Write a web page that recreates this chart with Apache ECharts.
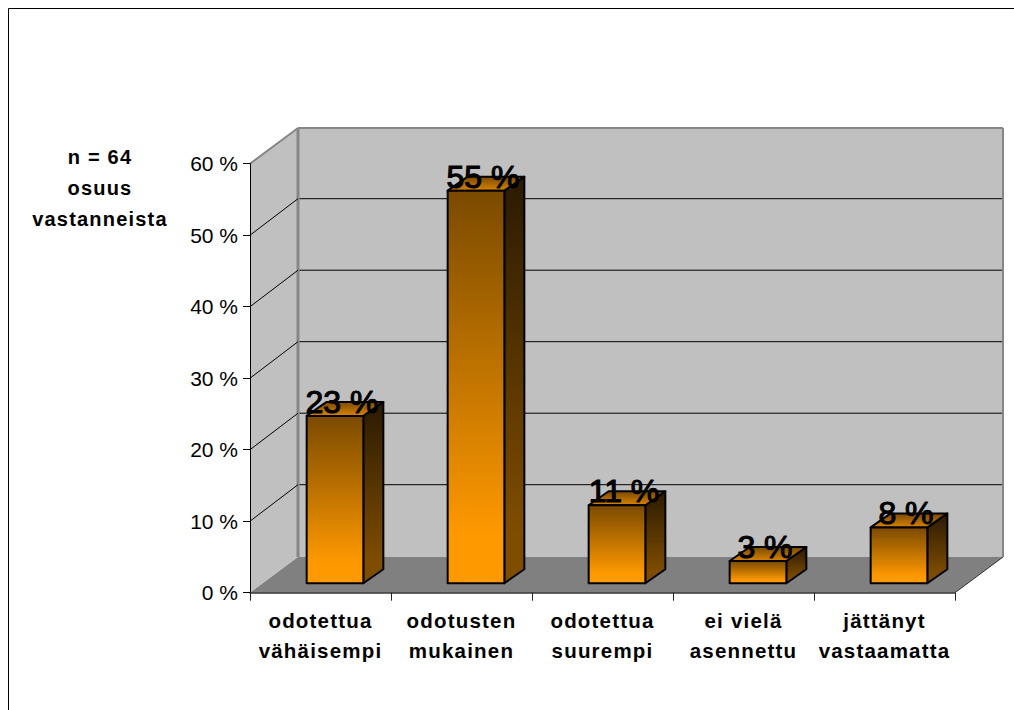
<!DOCTYPE html>
<html>
<head>
<meta charset="utf-8">
<style>
html,body{margin:0;padding:0;background:#fff}
#c{width:1014px;height:710px}
#c text[style*="bold"]{letter-spacing:1.2px}
</style>
<script src="https://cdn.jsdelivr.net/npm/echarts@6/dist/echarts.min.js"></script>
</head>
<body>
<div id="c"></div>
<script>
var categories = ['odotettua\nvähäisempi', 'odotusten\nmukainen', 'odotettua\nsuurempi', 'ei vielä\nasennettu', 'jättänyt\nvastaamatta'];
var shares = [23.4, 54.9, 10.9, 3.1, 7.8];
var shareLabels = ['23 %', '55 %', '11 %', '3 %', '8 %'];
var gridValues = [10, 20, 30, 40, 50];
var sideNote = 'n = 64\nosuus\nvastanneista';

var FONT = '"Liberation Sans", Arial, sans-serif';
var WALL = [48, -35.7];   // floor depth projected on the screen
var GRID_DY = -36.5;
var BAR_OFF = [14.5, -9.5]; // front of the bars within that depth
var BAR_DEPTH = [20, -14];
var BAR_FRAC = 0.402;

var LG = echarts.graphic.LinearGradient;
function poly(points, style) { return { type: 'polygon', shape: { points: points }, style: style }; }
function seg(a, b, stroke, w) {
  return { type: 'line', shape: { x1: a[0], y1: a[1], x2: b[0], y2: b[1] }, style: { stroke: stroke, lineWidth: w } };
}

function renderWalls(params, api) {
  var cs = params.coordSys;
  var L = cs.x, R = cs.x + cs.width;
  var y0 = api.coord([0, 0])[1], y60 = api.coord([0, 60])[1];
  var dx = WALL[0], dy = WALL[1];
  var edge = '#868686';
  var kids = [
    poly([[L, y0], [L, y60], [L + dx, y60 + dy], [L + dx, y0 + dy]], { fill: '#c0c0c0' }),
    poly([[L + dx, y60 + dy], [R + dx, y60 + dy], [R + dx, y0 + dy], [L + dx, y0 + dy]], { fill: '#c0c0c0' }),
    poly([[L, y0], [R, y0], [R + dx, y0 + dy], [L + dx, y0 + dy]], { fill: '#808080' }),
    seg([L, y60], [L + dx, y60 + dy], edge, 2),
    seg([L + dx, y60 + dy], [R + dx, y60 + dy], edge, 2),
    seg([L + dx, y60 + dy], [L + dx, y0 + dy], edge, 3),
    seg([R + dx, y60 + dy], [R + dx, y0 + dy], edge, 2),
    seg([R, y0], [R + dx, y0 + dy], '#333', 1)
  ];
  gridValues.forEach(function (v) {
    var y = api.coord([0, v])[1];
    kids.push(seg([L, y], [L + dx, y + GRID_DY], '#000', 1));
    kids.push(seg([L + dx + 1.5, y + GRID_DY], [R + dx - 1, y + GRID_DY], '#000', 1));
  });
  return { type: 'group', children: kids };
}

function renderBar(params, api) {
  var i = api.value(0), v = api.value(1);
  var base = api.coord([i, 0]), top = api.coord([i, v]);
  var w = api.size([1, 0])[0] * BAR_FRAC;
  var l = base[0] - w / 2 + BAR_OFF[0], r = l + w;
  var b = base[1] + BAR_OFF[1], t = top[1] + BAR_OFF[1];
  var dx = BAR_DEPTH[0], dy = BAR_DEPTH[1];
  function st(fill) { return { fill: fill, stroke: '#000', lineWidth: 2, lineJoin: 'round' }; }
  return { type: 'group', children: [
    poly([[r, b], [r + dx, b + dy], [r + dx, t + dy], [r, t]],
      st(new LG(0, 0, 0, 1, [{ offset: 0, color: '#2a1a00' }, { offset: 0.88, color: '#7f4d00' }, { offset: 1, color: '#7f4d00' }]))),
    poly([[l, t], [r, t], [r + dx, t + dy], [l + dx, t + dy]],
      st(new LG(0, 0, 0, 1, [{ offset: 0, color: '#7a4a00' }, { offset: 1, color: '#d98300' }]))),
    poly([[l, t], [r, t], [r, b], [l, b]],
      st(new LG(0, 0, 0, 1, [{ offset: 0, color: '#7a4a00' }, { offset: 0.88, color: '#ff9900' }, { offset: 1, color: '#ff9900' }]))),
    { type: 'text', style: { text: shareLabels[i], x: (l + r) / 2 + 7, y: t + 2, align: 'center', verticalAlign: 'bottom',
        font: '32px ' + FONT, fill: '#000', stroke: '#000', lineWidth: 1.1 } }
  ] };
}

var chart = echarts.init(document.getElementById('c'), null, { renderer: 'svg' });
chart.setOption({
  animation: false,
  backgroundColor: '#ffffff',
  title: {
    text: sideNote, left: 95, top: 136.5, textAlign: 'center',
    textStyle: { fontFamily: FONT, fontSize: 20, fontWeight: 'bold', lineHeight: 31, color: '#000' }
  },
  grid: { left: 250, right: 59, top: 163.7, bottom: 117.3, containLabel: false },
  xAxis: {
    type: 'category', data: categories, z: 10,
    axisLine: { show: true, onZero: true, lineStyle: { color: '#333', width: 1.5 } },
    axisTick: { show: true, alignWithLabel: false, length: 8, lineStyle: { color: '#222', width: 1 } },
    axisLabel: { interval: 0, margin: 12.5, color: '#000', fontFamily: FONT, fontSize: 20.5, fontWeight: 'bold', lineHeight: 30 },
    splitLine: { show: false }
  },
  yAxis: {
    type: 'value', min: 0, max: 60, interval: 10, z: 10,
    axisLine: { show: true, lineStyle: { color: '#000', width: 1 } },
    axisTick: { show: true, length: 7, lineStyle: { color: '#000', width: 1 } },
    axisLabel: { margin: 12, color: '#000', fontFamily: FONT, fontSize: 21, formatter: '{value} %' },
    splitLine: { show: false }
  },
  series: [
    { type: 'custom', name: 'seinät', z: 1, silent: true, clip: false, data: [[0, 0]], renderItem: renderWalls },
    { type: 'custom', name: 'osuus vastanneista', z: 3, silent: true, clip: false,
      encode: { x: 0, y: 1 },
      data: shares.map(function (v, i) { return [i, v]; }), renderItem: renderBar }
  ],
  graphic: [{
    type: 'polyline', z: 20, silent: true,
    shape: { points: [[8.5, 710], [8.5, 8.5], [1014, 8.5]] },
    style: { stroke: '#000', lineWidth: 1, fill: null }
  }]
});
</script>
</body>
</html>
